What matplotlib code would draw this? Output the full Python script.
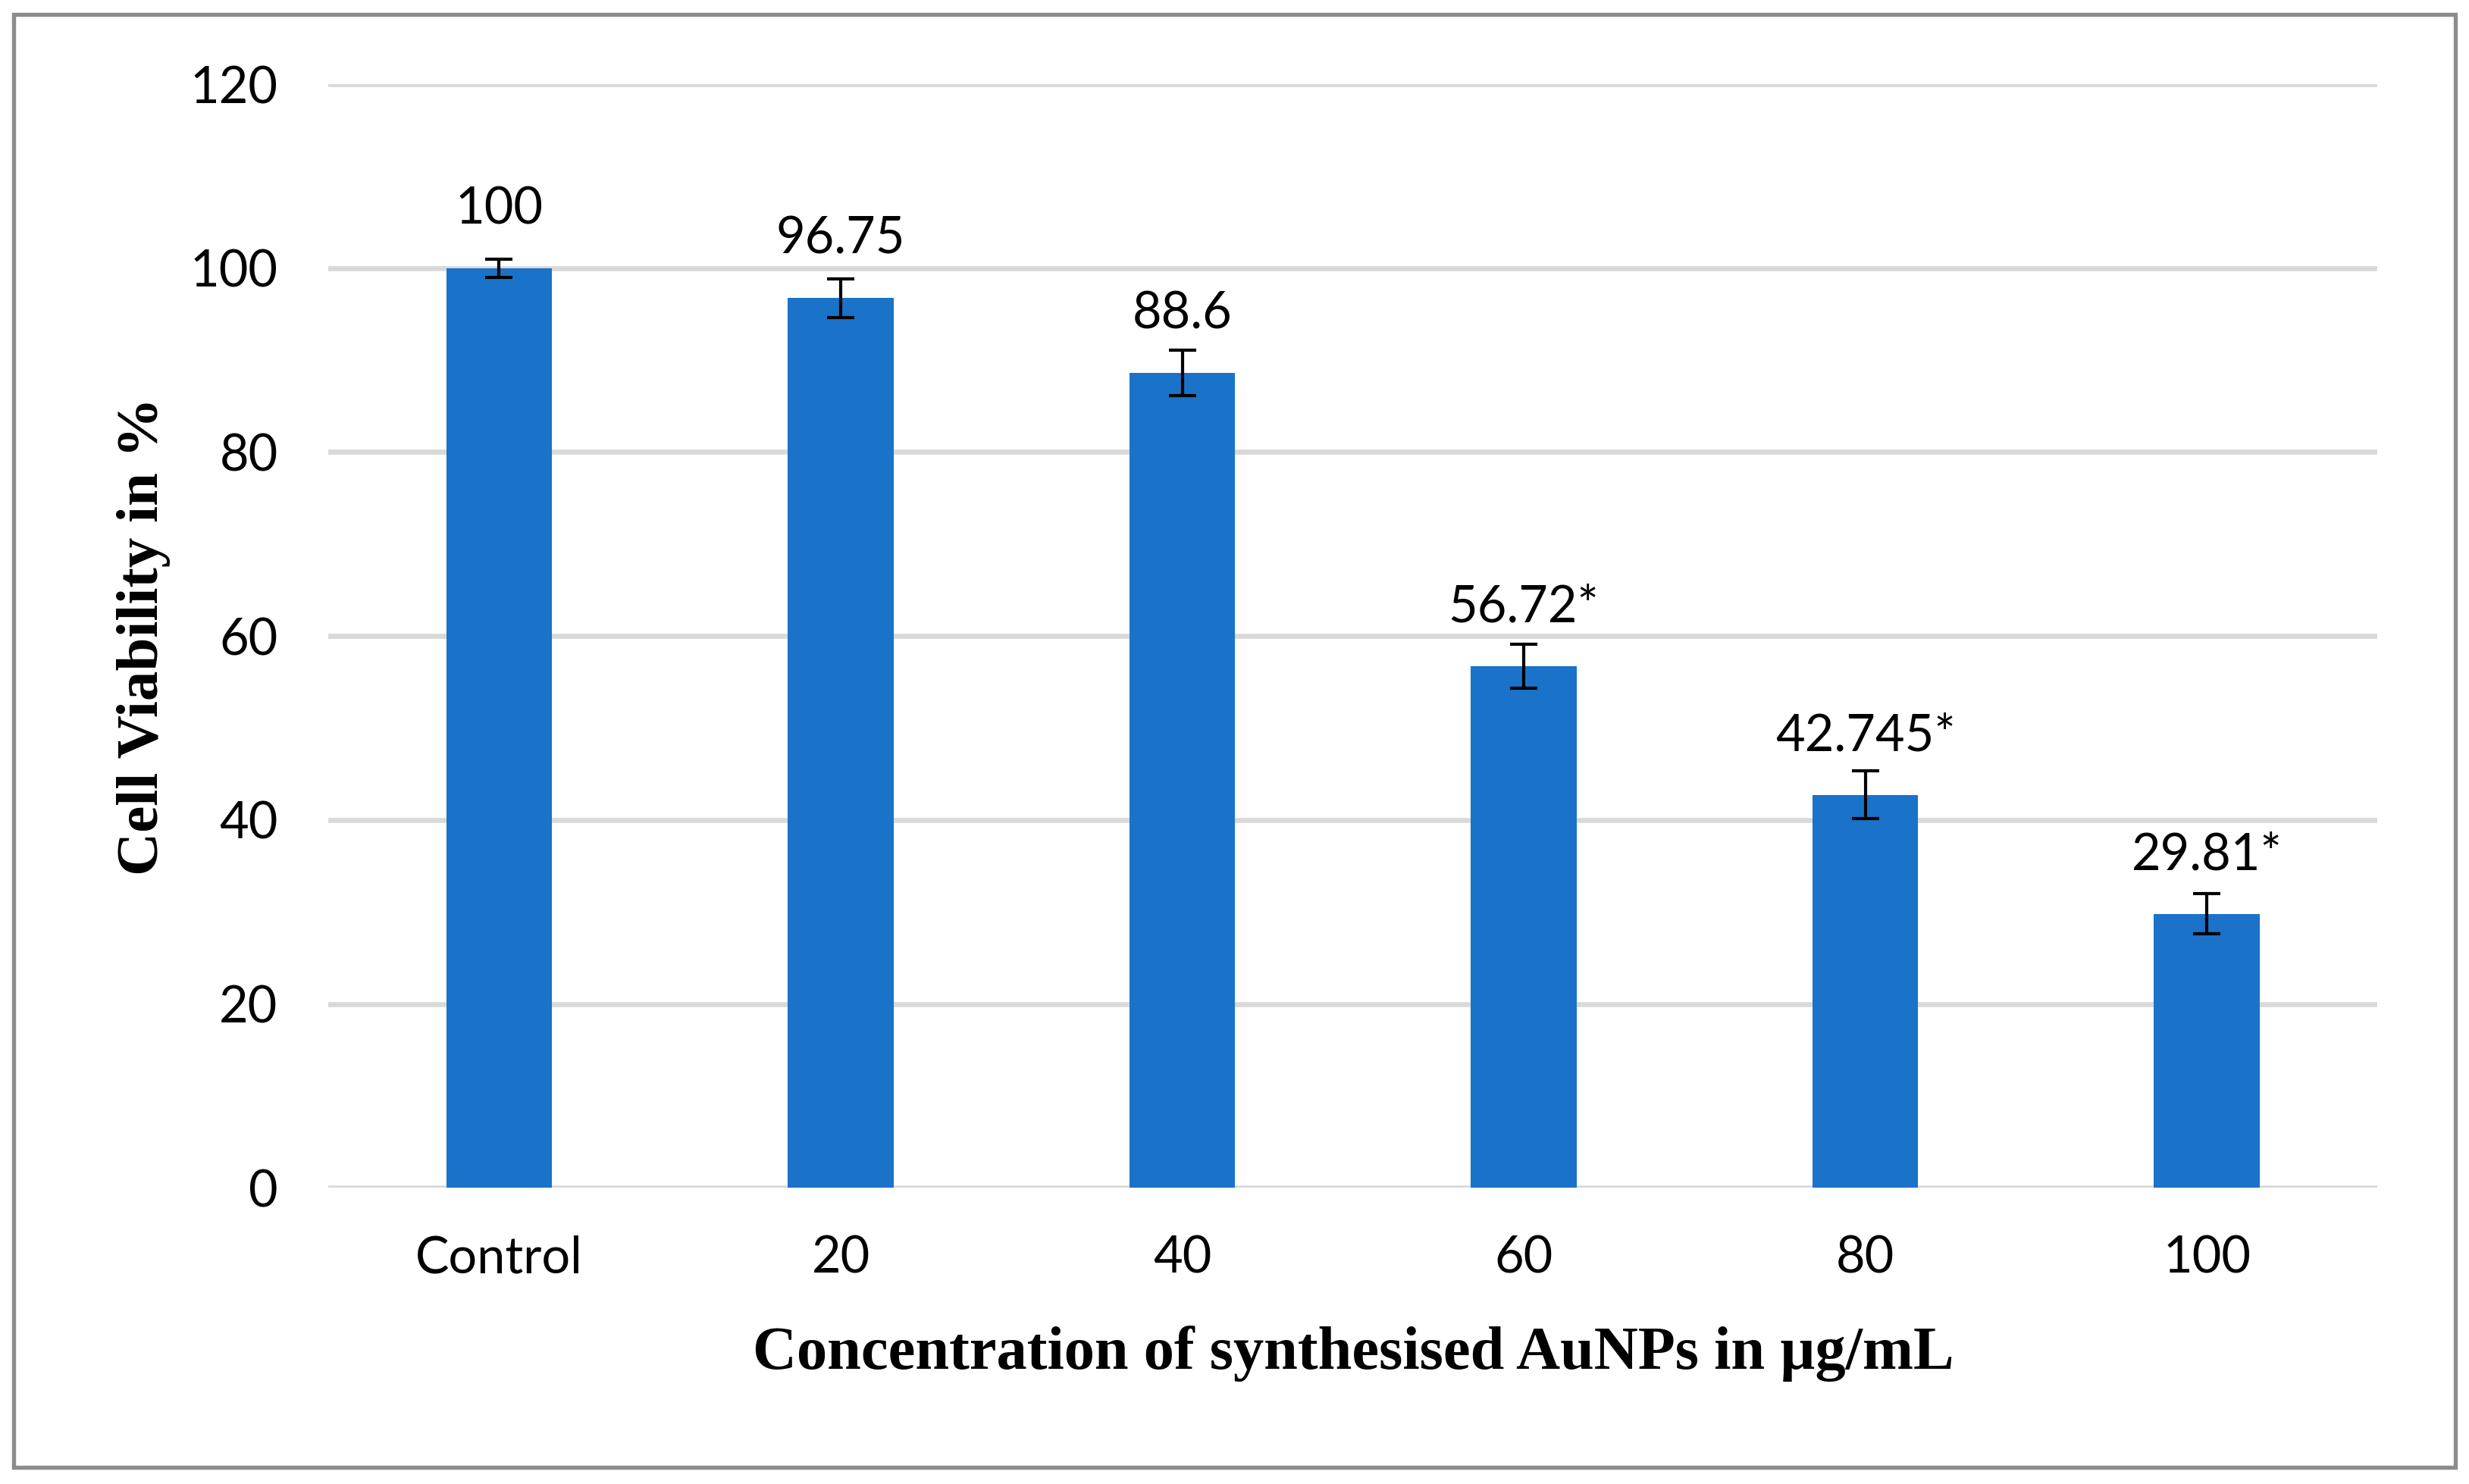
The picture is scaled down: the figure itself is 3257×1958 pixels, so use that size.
import matplotlib
matplotlib.use("Agg")
import matplotlib.pyplot as plt
import numpy as np

# datos
categorias = ["Control", "20", "40", "60", "80", "100"]
viabilidad = [100, 96.75, 88.6, 56.72, 42.745, 29.81]
errores = [1.0, 2.1, 2.5, 2.4, 2.6, 2.2]
etiquetas = ["100", "96.75", "88.6", "56.72*", "42.745*", "29.81*"]
yticks = [0, 20, 40, 60, 80, 100, 120]

AZUL = "#1A73C8"
GRIS = "#D9D9D9"
SANS = ["Lato", "DejaVu Sans"]
SERIF = ["Liberation Serif", "DejaVu Serif"]

fig = plt.figure(figsize=(3257 / 300, 1958 / 300), dpi=300)
ax = fig.add_axes([0.133, 0.1995, 0.830, 0.7438])

x = np.arange(len(categorias))
ax.bar(x, viabilidad, width=0.31, color=AZUL, zorder=2)
ax.errorbar(x, viabilidad, yerr=errores, fmt="none", ecolor="black",
            elinewidth=1.0, capsize=4.3, capthick=1.0, zorder=3)

for xi, v, txt in zip(x, viabilidad, etiquetas):
    ax.annotate(txt, xy=(xi, v), xytext=(0, 14), textcoords="offset points",
                ha="center", va="baseline", fontsize=16, family=SANS)

ax.set_xlim(-0.5, len(categorias) - 0.5)
ax.set_ylim(0, 120)
ax.set_yticks(yticks)
ax.set_xticks(x)
ax.set_xticklabels(categorias)
ax.yaxis.grid(True, color=GRIS, lw=1.6, zorder=0)
ax.set_axisbelow(True)
for s in ax.spines.values():
    s.set_visible(False)
ax.tick_params(axis="both", length=0, labelsize=16)
ax.tick_params(axis="x", pad=15)
ax.tick_params(axis="y", pad=16)
for lab in ax.get_xticklabels() + ax.get_yticklabels():
    lab.set_family(SANS)

ax.set_xlabel("Concentration of synthesised AuNPs in µg/mL", fontsize=19.3,
              fontweight="bold", family=SERIF, va="top")
ax.xaxis.set_label_coords(0.5, -0.125)
ax.set_ylabel("Cell Viability in %", fontsize=19, fontweight="bold",
              family=SERIF, va="center")
ax.yaxis.set_label_coords(-0.09, 0.5)

# marco exterior gris
fig.add_artist(plt.Rectangle((18 / 3257, 22 / 1958), 1 - 36 / 3257, 1 - 41 / 1958,
                             transform=fig.transFigure, fill=False,
                             ec="#8C8C8C", lw=1.3))

fig.savefig("out.png", dpi=300, facecolor="white")
